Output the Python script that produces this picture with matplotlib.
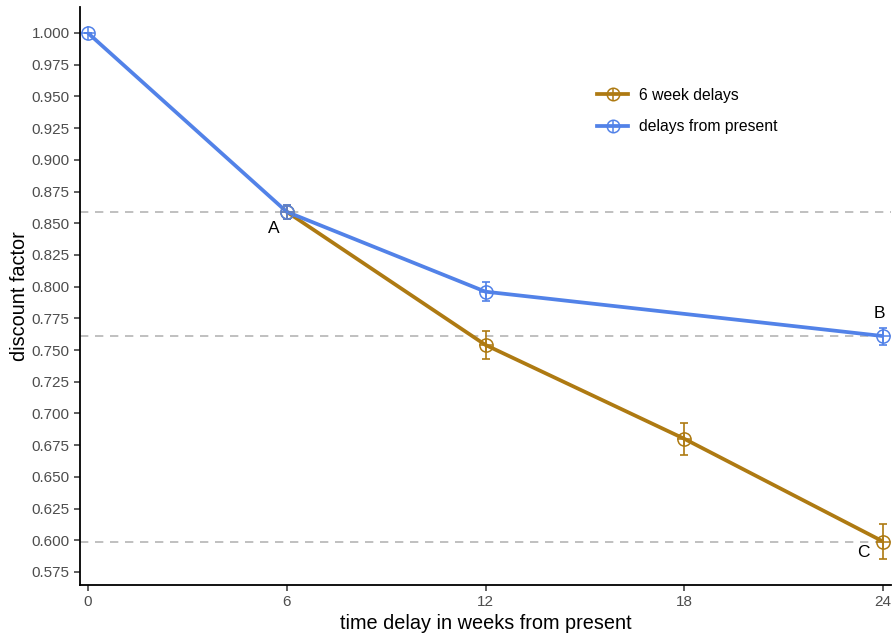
import numpy as np
import matplotlib
matplotlib.use("Agg")
import matplotlib.pyplot as plt
from matplotlib.lines import Line2D
from matplotlib.legend_handler import HandlerLine2D

plt.rcParams["font.family"] = ["Liberation Sans", "DejaVu Sans"]

# discount factors per delay (weeks from present)
weeks_present = [0, 6, 12, 24]
df_present = [1.000, 0.859, 0.796, 0.761]
se_present = [0.0, 0.0055, 0.0075, 0.0067]

weeks_six = [6, 12, 18, 24]
df_six = [0.859, 0.754, 0.680, 0.599]
se_six = [0.0055, 0.0107, 0.0126, 0.0138]

ref_levels = [0.859, 0.761, 0.599]
x_ticks = [0, 6, 12, 18, 24]
y_ticks = np.round(np.arange(0.575, 1.0001, 0.025), 3)

BLUE = "#5282E8"
GOLD = "#AE7A12"

fig = plt.figure(figsize=(8.93, 6.35), dpi=100)
ax = fig.add_axes([80 / 893, 50 / 635, 811 / 893, 578 / 635])

for lvl in ref_levels:
    ax.axhline(lvl, color="#b5b5b5", lw=1.2, ls=(0, (5, 4)), zorder=1)


def draw_series(x, y, err, color, label):
    ax.plot(x, y, color=color, lw=2.7, zorder=3, solid_capstyle="butt")
    ax.errorbar(x, y, yerr=err, fmt="none", ecolor=color, elinewidth=1.2,
                capsize=3, capthick=1.2, zorder=4)
    ax.plot(x, y, ls="none", marker="o", ms=9.5, mfc="none", mec=color,
            mew=1.1, zorder=5)
    ax.plot(x, y, ls="none", marker="+", ms=9.5, mec=color, mew=1.1, zorder=6)
    # legend proxy: line only, glyph added by the handler
    ax.plot([], [], color=color, lw=2.7, label=label)


draw_series(weeks_six, df_six, se_six, GOLD, "6 week delays")
draw_series(weeks_present, df_present, se_present, BLUE, "delays from present")

ax.text(5.6, 0.846, "A", fontsize=12.5, ha="center", va="center")
ax.text(23.9, 0.779, "B", fontsize=12.5, ha="center", va="center")
ax.text(23.4, 0.590, "C", fontsize=12.5, ha="center", va="center")

ax.set_xlim(-0.24, 24.24)
ax.set_ylim(0.5647, 1.0205)
ax.set_xticks(x_ticks)
ax.set_yticks(y_ticks)
ax.set_yticklabels([f"{v:.3f}" for v in y_ticks])
ax.tick_params(colors="#333333", labelcolor="#4d4d4d", labelsize=11,
               length=4, width=1.1)
for side in ("top", "right"):
    ax.spines[side].set_visible(False)
for side in ("left", "bottom"):
    ax.spines[side].set_linewidth(1.3)

ax.set_xlabel("time delay in weeks from present", fontsize=14.3, labelpad=3)
ax.set_ylabel("discount factor", fontsize=14.3, labelpad=2)


class CirclePlusHandler(HandlerLine2D):
    def create_artists(self, legend, orig, xd, yd, w, h, fs, trans):
        arts = super().create_artists(legend, orig, xd, yd, w, h, fs, trans)
        c = orig.get_color()
        cx = w / 2 - xd
        cy = h / 2 - yd
        circ = Line2D([cx], [cy], ls="none", marker="o", ms=9, mfc="none",
                      mec=c, mew=1.1, transform=trans)
        plus = Line2D([cx], [cy], ls="none", marker="+", ms=9, mec=c,
                      mew=1.1, transform=trans)
        return list(arts) + [circ, plus]


handles, labels = ax.get_legend_handles_labels()
ax.legend(handles, labels, loc="upper left", bbox_to_anchor=(0.62, 0.885),
          frameon=False, fontsize=11.3, handlelength=2.0, handletextpad=0.7,
          labelspacing=1.05, handler_map={Line2D: CirclePlusHandler()})

fig.savefig("out.png", dpi=100)
